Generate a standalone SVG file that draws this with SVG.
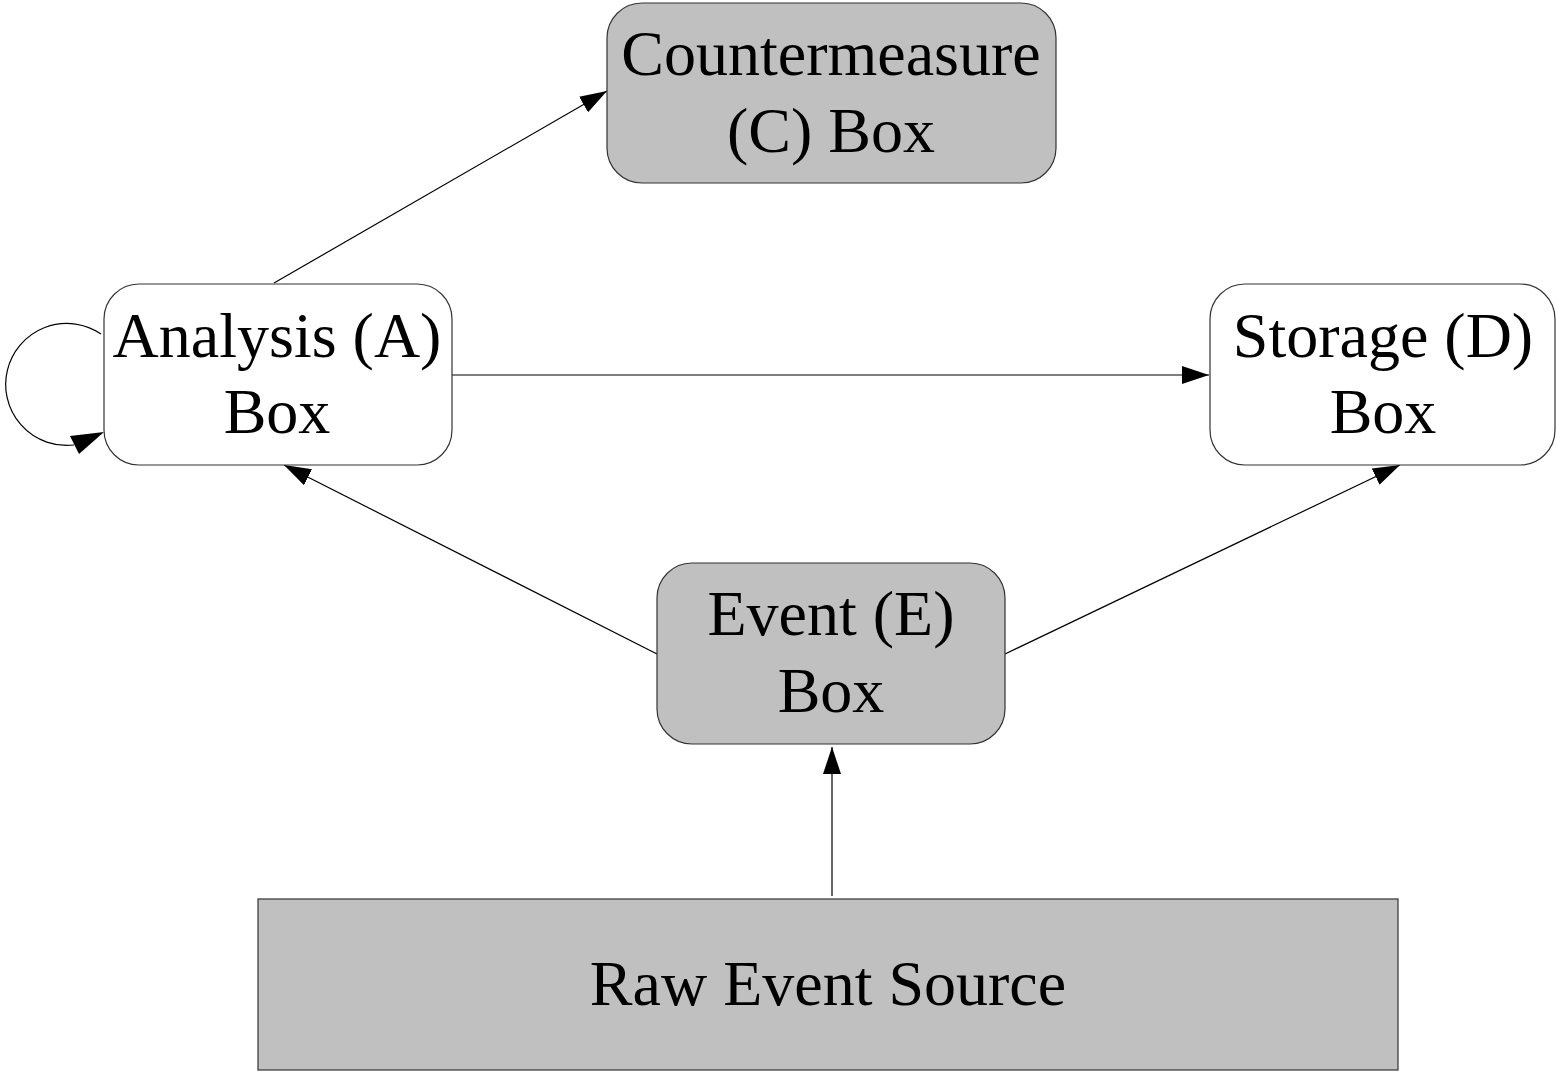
<svg xmlns="http://www.w3.org/2000/svg" width="1556" height="1071" viewBox="0 0 1556 1071">
<style>
.box{stroke:#333;stroke-width:1.2}
.white{fill:#fff}
.gray{fill:#c0c0c0}
.lbl{font-family:"Liberation Serif","Times New Roman",serif;font-size:64px;fill:#000;text-anchor:middle}
.edge{fill:none;stroke:#000;stroke-width:1.2;marker-end:url(#arrow)}
.loop{fill:none;stroke:#000;stroke-width:1.2}
</style>
<defs>
<marker id="arrow" markerUnits="userSpaceOnUse" markerWidth="28" markerHeight="20" refX="27" refY="9" orient="auto">
<path d="M0,0 L27,9 L0,18 z" fill="#000"/>
</marker>
</defs>
<rect width="1556" height="1071" fill="#fff"/>
<g id="connectors">
<path class="edge" d="M274,283 L607,91"/>
<path class="edge" d="M452,375 L1209,375"/>
<path class="edge" d="M657,654 L284,465"/>
<path class="edge" d="M1005,654 L1400,465"/>
<path class="edge" d="M832,896 L832,747"/>
<path class="loop" d="M101,334 A61,61 0 1 0 74,445"/>
<polygon points="104,432 70,436 79,454" fill="#000"/>
</g>
<g id="nodeC">
<rect class="box gray" x="607" y="3" width="449" height="180" rx="35" ry="35"/>
<text class="lbl" x="831" y="75">Countermeasure</text>
<text class="lbl" x="831" y="152">(C) Box</text>
</g>
<g id="nodeA">
<rect class="box white" x="104" y="284" width="348" height="181" rx="35" ry="35"/>
<text class="lbl" x="277" y="357">Analysis (A)</text>
<text class="lbl" x="277" y="433">Box</text>
</g>
<g id="nodeD">
<rect class="box white" x="1210" y="284" width="345" height="181" rx="35" ry="35"/>
<text class="lbl" x="1383" y="357">Storage (D)</text>
<text class="lbl" x="1383" y="433">Box</text>
</g>
<g id="nodeE">
<rect class="box gray" x="657" y="563" width="348" height="181" rx="35" ry="35"/>
<text class="lbl" x="831" y="635">Event (E)</text>
<text class="lbl" x="831" y="712">Box</text>
</g>
<g id="nodeRaw">
<rect class="box gray" x="258" y="899" width="1140" height="171"/>
<text class="lbl" x="828" y="1005">Raw Event Source</text>
</g>
</svg>
